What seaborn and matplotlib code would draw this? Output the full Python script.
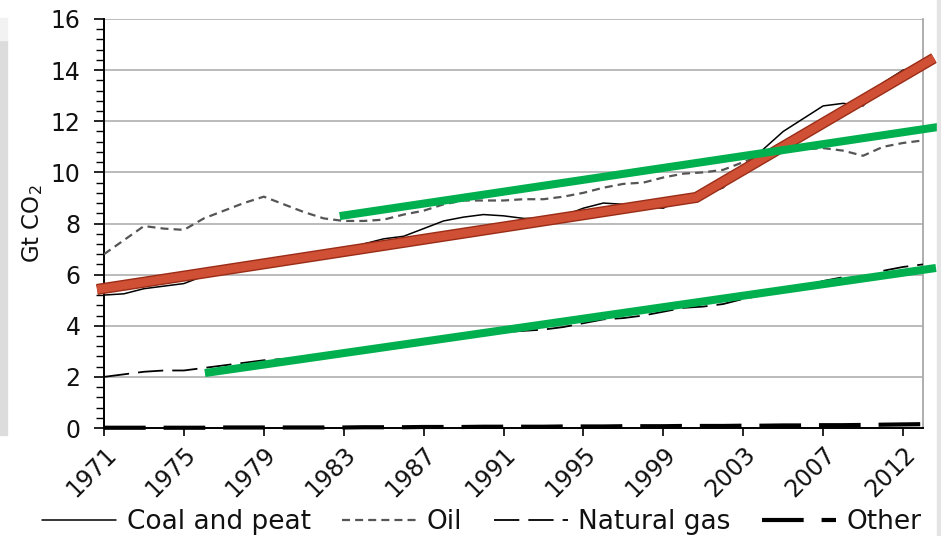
import matplotlib
matplotlib.use("Agg")
import matplotlib.pyplot as plt
import matplotlib.patheffects as pe
from matplotlib.ticker import MultipleLocator, AutoMinorLocator
from matplotlib.patches import Rectangle
import seaborn as sns
import pandas as pd

# ---------------- data ----------------
years = list(range(1971, 2013))
coal = [5.2, 5.25, 5.45, 5.55, 5.65, 5.95, 6.1, 6.3, 6.45, 6.5,
        6.55, 6.7, 6.9, 7.2, 7.4, 7.5, 7.8, 8.1, 8.25, 8.35,
        8.3, 8.2, 8.2, 8.3, 8.6, 8.8, 8.75, 8.65, 8.6, 9.0,
        9.1, 9.4, 10.2, 10.9, 11.6, 12.1, 12.6, 12.7, 12.6, 13.5,
        14.0, 14.2]
oil = [6.8, 7.35, 7.9, 7.8, 7.75, 8.2, 8.5, 8.8, 9.05, 8.75,
       8.45, 8.2, 8.1, 8.1, 8.15, 8.35, 8.5, 8.75, 8.9, 8.9,
       8.9, 8.95, 8.95, 9.05, 9.2, 9.4, 9.55, 9.6, 9.8, 9.95,
       10.0, 10.1, 10.4, 10.7, 10.85, 10.9, 10.95, 10.85, 10.65, 11.0,
       11.15, 11.25]
gas = [2.0, 2.1, 2.2, 2.25, 2.25, 2.35, 2.45, 2.55, 2.65, 2.7,
       2.75, 2.8, 2.85, 3.0, 3.1, 3.15, 3.3, 3.4, 3.55, 3.65,
       3.75, 3.8, 3.85, 3.95, 4.1, 4.25, 4.3, 4.4, 4.55, 4.7,
       4.75, 4.85, 5.05, 5.2, 5.35, 5.5, 5.75, 5.9, 5.85, 6.15,
       6.3, 6.4]
other = [0.01, 0.01, 0.01, 0.01, 0.01, 0.01, 0.02, 0.02, 0.02, 0.02,
         0.02, 0.02, 0.02, 0.03, 0.03, 0.03, 0.04, 0.04, 0.04, 0.05,
         0.05, 0.05, 0.05, 0.06, 0.06, 0.06, 0.07, 0.07, 0.07, 0.08,
         0.08, 0.08, 0.09, 0.09, 0.10, 0.10, 0.11, 0.11, 0.12, 0.13,
         0.14, 0.15]

# hand-drawn trend annotations
red_trend_x = [1970.65, 2000.65, 2012.55]
red_trend_y = [5.42, 9.02, 14.47]
green_upper_x = [1982.8, 2012.8]
green_upper_y = [8.29, 11.78]
green_lower_x = [1976.05, 2012.65]
green_lower_y = [2.15, 6.26]

xtick_years = [1971, 1975, 1979, 1983, 1987, 1991, 1995, 1999, 2003, 2007, 2011]
xtick_labels = ["1971", "1975", "1979", "1983", "1987", "1991", "1995",
                "1999", "2003", "2007", "2012"]
series_labels = ["Coal and peat", "Oil", "Natural gas", "Other"]

# ---------------- figure ----------------
sns.set_theme(style="white")
plt.rcParams["font.family"] = ["DejaVu Sans"]

fig = plt.figure(figsize=(9.41, 5.36), dpi=100)
ax = fig.add_axes([104 / 941, 1 - 428 / 536, (923 - 104) / 941, (428 - 19) / 536])

# screenshot side strips
fig.patches.append(Rectangle((0, 1 - 435 / 536), 7 / 941, (435 - 40) / 536,
                             transform=fig.transFigure, color="#dcdcdc", zorder=0))
fig.patches.append(Rectangle((0, 1 - 40 / 536), 7 / 941, 22 / 536,
                             transform=fig.transFigure, color="#f2f2f2", zorder=0))
fig.patches.append(Rectangle((937 / 941, 0), 4 / 941, 1,
                             transform=fig.transFigure, color="#e4e4e4", zorder=0))

df = pd.DataFrame({"year": years, "coal": coal, "oil": oil, "gas": gas, "other": other})

sns.lineplot(data=df, x="year", y="coal", ax=ax, color="black", lw=1.1,
             label=series_labels[0], zorder=3)
sns.lineplot(data=df, x="year", y="oil", ax=ax, color="#555555", lw=1.6,
             linestyle=(0, (3.6, 2.3)), label=series_labels[1], zorder=3)
sns.lineplot(data=df, x="year", y="gas", ax=ax, color="black", lw=1.3,
             linestyle=(0, (14, 5)), label=series_labels[2], zorder=3)
sns.lineplot(data=df, x="year", y="other", ax=ax, color="black", lw=3.0,
             linestyle=(0, (10, 4.3)), label=series_labels[3], zorder=4,
             clip_on=False)

# trend annotations
sns.lineplot(x=red_trend_x, y=red_trend_y, ax=ax, color="#cf5034", lw=6.0,
             zorder=5, clip_on=False, solid_capstyle="butt", solid_joinstyle="miter",
             path_effects=[pe.Stroke(linewidth=8.0, foreground="#9a2d18"), pe.Normal()],
             legend=False, sort=False)
sns.lineplot(x=green_upper_x, y=green_upper_y, ax=ax, color="#00b04f", lw=5.8,
             zorder=5, clip_on=False, solid_capstyle="butt", legend=False)
sns.lineplot(x=green_lower_x, y=green_lower_y, ax=ax, color="#00b04f", lw=5.8,
             zorder=5, clip_on=False, solid_capstyle="butt", legend=False)

# axes
ax.set_xlim(1971, 2012)
ax.set_ylim(0, 16)
ax.yaxis.set_major_locator(MultipleLocator(2))
ax.yaxis.set_minor_locator(AutoMinorLocator(5))
ax.set_xticks(xtick_years)
ax.set_xticklabels(xtick_labels, rotation=45, ha="right", rotation_mode="anchor",
                   fontsize=17, color="#111111")
ax.tick_params(axis="y", which="major", length=7, width=1.2, color="black",
               labelsize=17, labelcolor="#111111", pad=10, left=True)
ax.tick_params(axis="y", which="minor", length=5.5, width=1.0, color="black", left=True)
ax.tick_params(axis="x", which="major", length=6, width=1.2, color="black",
               pad=4, bottom=True)
ax.grid(axis="y", color="#b5b5b5", lw=1.3)
ax.grid(axis="x", visible=False)
ax.set_axisbelow(True)

for s in ["left", "bottom"]:
    ax.spines[s].set_color("black")
    ax.spines[s].set_linewidth(1.4)
ax.spines["right"].set_color("#a8a8a8")
ax.spines["right"].set_linewidth(1.3)
ax.spines["top"].set_visible(False)

ax.set_xlabel("")
ax.set_ylabel("Gt CO$_2$", fontsize=16.5, color="#111111", labelpad=4)

handles, labels = ax.get_legend_handles_labels()
if ax.legend_:
    ax.legend_.remove()
fig.legend(handles[:4], labels[:4], loc="center", bbox_to_anchor=(482 / 941, 1 - 522 / 536),
           ncol=4, frameon=False, fontsize=19, handlelength=2.8, handletextpad=0.4,
           columnspacing=1.2, labelcolor="#111111", borderaxespad=0, borderpad=0)

fig.savefig("out.png", dpi=100)
